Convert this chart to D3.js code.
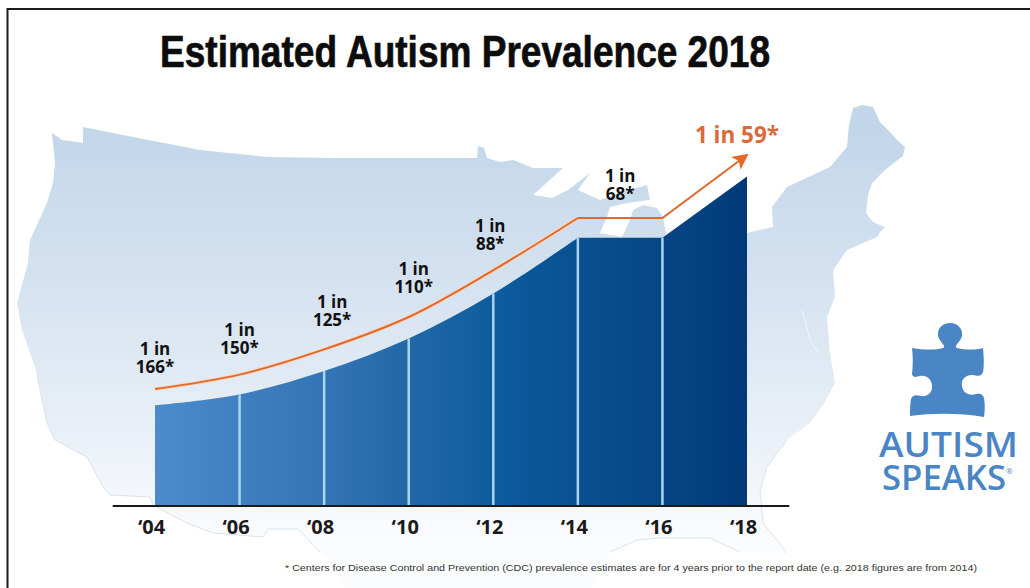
<!DOCTYPE html>
<html>
<head>
<meta charset="utf-8">
<script src="https://cdn.jsdelivr.net/npm/d3@7"></script>
<style>
  html, body { margin: 0; padding: 0; background: #fff; }
  svg { display: block; }
</style>
</head>
<body>
<svg id="chart" width="1030" height="588"></svg>
<script>
// values, bar height in cases per 1000 (roughly)
var years = [2004, 2006, 2008, 2010, 2012, 2014, 2016, 2018];
var barValues = [5.6, 6.2, 7.5, 9.3, 11.8, 14.9, 14.9, 18.3];
var lineValues = [6.5, 7.3, 8.7, 10.5, 13.1, 16.0, 16.0, 19.5];
var tickLabels = ["‘04", "‘06", "‘08", "‘10", "‘12", "‘14", "‘16", "‘18"];
var labelYears = [2004, 2006, 2008, 2010, 2012, 2015];
var labelTexts = ["166*", "150*", "125*", "110*", "88*", "68*"];
var lastLabel = "1 in 59*";

// the map behind the chart is only decoration, traced by hand
var mapOutline = "M52,133 L62,140 L77,142 L83,143 L83,127 L133,137 L200,150 L267,157 L333,158 L417,158 L477,158 L478,146 L484,148 L487,158 L500,162 L513,160 L533,168 L563,168 L533,195 L552,198 L568,190 L590,173 L578,190 L600,200 L622,192 L647,185 L650,200 L627,203 L610,207 L607,217 L600,233 L622,237 L630,220 L633,210 L643,205 L657,208 L663,217 L668,245 L747,233 L773,227 L772,207 L787,187 L830,167 L847,147 L849,125 L853,108 L862,105 L873,107 L880,122 L890,132 L897,140 L905,147 L903,156 L895,162 L885,170 L872,183 L868,195 L866,213 L873,222 L880,225 L885,227 L880,232 L877,237 L847,250 L833,270 L835,297 L827,317 L830,353 L835,383 L825,402 L810,423 L787,440 L767,467 L760,490 L763,523 L787,553 L770,553 L740,552 L710,538 L637,540 L610,552 L590,590 L347,590 L320,552 L298,529 L268,529 L263,537 L213,533 L187,523 L153,505 L150,497 L110,495 L103,487 L87,457 L55,440 L47,423 L40,390 L37,373 L22,330 L17,303 L28,263 L30,240 L47,203 L53,183 L55,163 Z";
var coastLines = "M37,373 L40,390 L47,423 L55,440 L87,457 L103,487 L110,495 L150,497 L153,505 L187,523 L213,533 L263,537 L268,529 L298,529 L320,552 M610,552 L637,540 L660,538 L710,538 L740,552 M787,440 L767,467 L760,490 L763,523 L787,553";
var bayLines = "M802,310 L806,325 L810,340 L818,353";
var puzzlePiece = "M912,348 C925,350 935,350 943,348 C947,346 940,343 938,336 C937,328 943,323 950,323 C958,323 963,329 962,336 C960,343 953,346 957,348 C966,350 975,350 983,348 C984,358 984,368 983,372 C981,378 976,375 972,375 C964,375 961,381 962,386 C963,394 971,396 976,394 C980,393 983,394 984,398 C985,404 985,410 984,417 C960,413 934,413 910,416 C910,410 910,404 911,399 C913,394 917,395 921,396 C928,397 933,392 932,385 C931,378 925,375 920,376 C916,377 913,378 912,374 C913,365 913,357 912,348 Z";

var svg = d3.select("#chart");

var x = d3.scaleLinear().domain([2004, 2018]).range([155, 747]);
var y = d3.scaleLinear().domain([0, 20]).range([506, 146]);

// gradients
var defs = svg.append("defs");
var mapGrad = defs.append("linearGradient").attr("id", "mapGrad")
  .attr("gradientUnits", "userSpaceOnUse")
  .attr("x1", 0).attr("y1", 127).attr("x2", 0).attr("y2", 540);
mapGrad.append("stop").attr("offset", 0).attr("stop-color", "#c2d6ea");
mapGrad.append("stop").attr("offset", 0.4).attr("stop-color", "#d6e3f0");
mapGrad.append("stop").attr("offset", 0.75).attr("stop-color", "#eaf0f7");
mapGrad.append("stop").attr("offset", 1).attr("stop-color", "#fbfcfe");

var barGrad = defs.append("linearGradient").attr("id", "barGrad")
  .attr("gradientUnits", "userSpaceOnUse")
  .attr("x1", x(2004)).attr("y1", 0).attr("x2", x(2018)).attr("y2", 0);
barGrad.append("stop").attr("offset", 0).attr("stop-color", "#4c8ccc");
barGrad.append("stop").attr("offset", 0.3).attr("stop-color", "#3273b3");
barGrad.append("stop").attr("offset", 0.6).attr("stop-color", "#0b5a9b");
barGrad.append("stop").attr("offset", 1).attr("stop-color", "#023a78");

defs.append("marker").attr("id", "arrow")
  .attr("markerUnits", "userSpaceOnUse")
  .attr("viewBox", "0 0 16 16")
  .attr("refX", 14).attr("refY", 8)
  .attr("markerWidth", 16).attr("markerHeight", 16)
  .attr("orient", "auto")
  .append("path").attr("d", "M0,0 L16,8 L0,16 L4,8 Z").attr("fill", "#e2692a");

// frame
svg.append("path").attr("d", "M7.5,588 V9 H1030")
  .attr("fill", "none").attr("stroke", "#1c1c1c").attr("stroke-width", 2);

// map
svg.append("path").attr("d", mapOutline).attr("fill", "url(#mapGrad)");
svg.append("path").attr("d", coastLines)
  .attr("fill", "none").attr("stroke", "#d9e3ee").attr("stroke-width", 1);
svg.append("path").attr("d", bayLines)
  .attr("fill", "none").attr("stroke", "#f2f6fa").attr("stroke-width", 1);

// area up to 2014 is curved, after that it is straight
var rows = years.map(function(d, i) {
  return { year: d, bar: barValues[i], line: lineValues[i] };
});
var curved = rows.slice(0, 6);
var straight = rows.slice(5);

var area = d3.area().x(function(d) { return x(d.year); }).y0(y(0)).y1(function(d) { return y(d.bar); });
svg.append("path").attr("d", area.curve(d3.curveCatmullRom)(curved)).attr("fill", "url(#barGrad)");
svg.append("path").attr("d", area.curve(d3.curveLinear)(straight)).attr("fill", "url(#barGrad)");

// separators between the bars
svg.selectAll("line.sep")
  .data(rows.slice(1, 7))
  .enter().append("line")
  .attr("class", "sep")
  .attr("x1", function(d) { return x(d.year); })
  .attr("x2", function(d) { return x(d.year); })
  .attr("y1", function(d) { return y(d.bar); })
  .attr("y2", y(0))
  .attr("stroke", "#aed3f0").attr("stroke-width", 2.5);

// orange trend line, with the pale halo it has in the picture
var line = d3.line().x(function(d) { return x(d.year); }).y(function(d) { return y(d.line); });
var curvedLine = line.curve(d3.curveCatmullRom)(curved);
var straightLine = line.curve(d3.curveLinear)(straight);
svg.append("path").attr("d", curvedLine)
  .attr("fill", "none").attr("stroke", "#f6d8c6").attr("stroke-width", 4);
svg.append("path").attr("d", curvedLine)
  .attr("fill", "none").attr("stroke", "#e2692a").attr("stroke-width", 2);
svg.append("path").attr("d", straightLine)
  .attr("fill", "none").attr("stroke", "#e2692a").attr("stroke-width", 2)
  .attr("marker-end", "url(#arrow)");

// baseline
svg.append("line")
  .attr("x1", x(2003)).attr("x2", x(2019))
  .attr("y1", y(0)).attr("y2", y(0))
  .attr("stroke", "#1a1a1a").attr("stroke-width", 2);

// x axis
var axis = d3.axisBottom(x).tickValues(years).tickSize(0)
  .tickFormat(function(d, i) { return tickLabels[i]; });
var axisG = svg.append("g").attr("transform", "translate(0," + y(0) + ")").call(axis);
axisG.select(".domain").remove();
axisG.selectAll("text")
  .attr("x", -4).attr("y", 28).attr("dy", 0)
  .style("font-family", "'Open Sans', sans-serif")
  .style("font-weight", 700).style("font-size", "20px").attr("fill", "#1a1a1a");

// 1 in N labels
var labelDy = [16, 21, 23, 24, 20, 18];
var labelDx = [0, 0, 8, 5, -3, 0];
var lineAt = d3.scaleLinear().domain(years).range(lineValues);
var labels = svg.selectAll("g.lab")
  .data(labelYears)
  .enter().append("g")
  .attr("class", "lab")
  .attr("transform", function(d, i) {
    return "translate(" + (x(d) + labelDx[i]) + "," + (y(lineAt(d)) - labelDy[i]) + ")";
  })
  .style("font-family", "'Open Sans', sans-serif")
  .style("font-weight", 700).style("font-size", "17px")
  .attr("text-anchor", "middle").attr("fill", "#111");
labels.append("text").attr("y", -18).text("1 in");
labels.append("text").text(function(d, i) { return labelTexts[i]; });

svg.append("text")
  .attr("x", x(2018) - 10).attr("y", 143)
  .attr("text-anchor", "middle")
  .style("font-family", "'Open Sans', sans-serif")
  .style("font-weight", 700).style("font-size", "22.5px")
  .attr("fill", "#db6a3a")
  .text(lastLabel);

// title
svg.append("text")
  .attr("x", 465).attr("y", 67)
  .attr("text-anchor", "middle")
  .attr("textLength", 610).attr("lengthAdjust", "spacingAndGlyphs")
  .style("font-family", "'Liberation Sans Narrow', 'Liberation Sans', sans-serif")
  .style("font-weight", 700).style("font-size", "44px")
  .attr("fill", "#0c0c0c").attr("stroke", "#0c0c0c").attr("stroke-width", 0.7)
  .text("Estimated Autism Prevalence 2018");

// footnote
svg.append("text")
  .attr("x", 285).attr("y", 571)
  .attr("textLength", 692).attr("lengthAdjust", "spacingAndGlyphs")
  .style("font-family", "'Liberation Sans', sans-serif")
  .style("font-size", "9px").attr("fill", "#333")
  .text("* Centers for Disease Control and Prevention (CDC) prevalence estimates are for 4 years prior to the report date (e.g. 2018 figures are from 2014)");

// logo
svg.append("path").attr("d", puzzlePiece).attr("fill", "#4a86c5");
svg.append("text")
  .attr("x", 879).attr("y", 457)
  .attr("textLength", 139).attr("lengthAdjust", "spacingAndGlyphs")
  .style("font-family", "'Open Sans', sans-serif")
  .style("font-weight", 600).style("font-size", "35px").attr("fill", "#4a86c5")
  .text("AUTISM");
svg.append("text")
  .attr("x", 882).attr("y", 490)
  .attr("textLength", 124).attr("lengthAdjust", "spacingAndGlyphs")
  .style("font-family", "'Open Sans', sans-serif")
  .style("font-weight", 600).style("font-size", "35px").attr("fill", "#4a86c5")
  .text("SPEAKS");
svg.append("text")
  .attr("x", 1006).attr("y", 474)
  .style("font-family", "'Open Sans', sans-serif")
  .style("font-size", "8px").attr("fill", "#4a86c5")
  .text("®");
</script>
</body>
</html>
